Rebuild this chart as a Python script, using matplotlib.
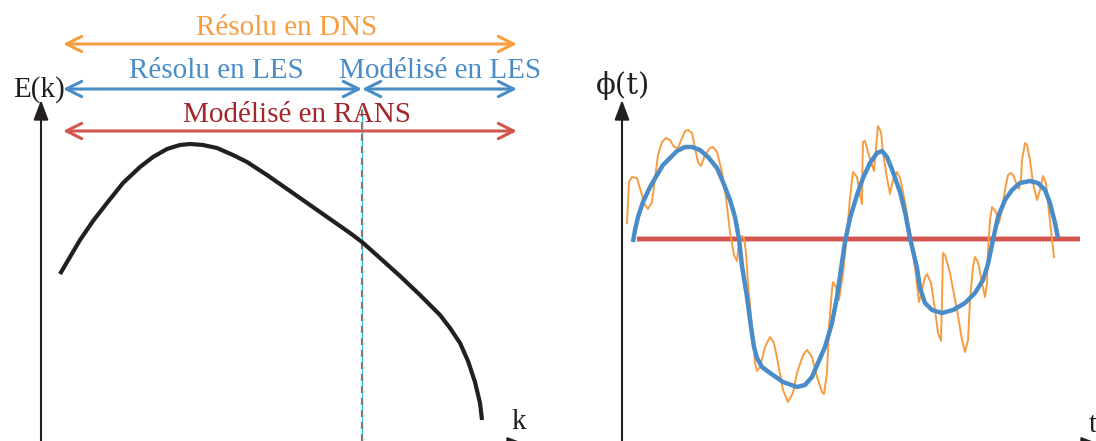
import matplotlib
matplotlib.use("Agg")
import matplotlib.pyplot as plt
from matplotlib.patches import FancyArrowPatch

# ---------------- data ----------------
# Left panel: energy spectrum E(k)
k_vals = [1.9, 2.9, 3.9, 5.2, 6.6, 8.2, 9.9, 11.2, 12.6, 13.9, 14.9, 16.2, 17.6, 19.2, 20.6,
          22.6, 24.9, 26.9, 28.9, 30.9, 32.1, 33.9, 35.9, 37.9, 39.9, 40.9, 41.9, 42.7,
          43.4, 43.9, 44.1]
E_vals = [16.7, 18.4, 20.1, 22.0, 23.8, 25.8, 27.4, 28.4, 29.2, 29.6, 29.7, 29.6, 29.3, 28.6, 27.9,
          26.6, 25.0, 23.6, 22.2, 20.8, 19.9, 18.3, 16.5, 14.6, 12.6, 11.3, 9.8, 8.0,
          5.9, 3.8, 2.1]
k_cut = 32.1
labels_left = ["Résolu en DNS", "Résolu en LES", "Modélisé en LES", "Modélisé en RANS"]

# Right panel: instantaneous signal phi(t)
t_raw = [0.5, 0.7, 1.0, 1.5, 1.9, 2.3, 2.6, 3.0, 3.3, 3.6, 4.0, 4.4, 4.8, 5.2, 5.6, 6.0,
         6.3, 6.6, 7.0, 7.3, 7.6, 7.9, 8.3, 8.8, 9.1, 9.5, 10.0, 10.4, 10.8, 11.2, 11.5, 11.7,
         12.0, 12.2, 12.4, 12.6, 13.0, 13.3, 13.5, 13.8, 14.3, 14.8, 15.2, 15.6, 16.1, 16.6,
         17.1, 17.5, 18.1, 18.5, 19.0, 19.5, 20.0, 20.2, 20.5, 20.7, 21.0, 21.1, 21.4, 21.7,
         22.1, 22.5, 22.8, 23.1, 23.5, 23.8, 24.0, 24.05, 24.1, 24.3, 24.6, 25.0, 25.2, 25.4,
         25.6, 25.9, 26.1, 26.5, 26.8, 27.1, 27.5, 27.8, 28.3, 28.8, 29.3, 29.7, 30.0, 30.3,
         30.5, 30.9, 31.3, 31.6, 31.9, 32.0, 32.1, 32.3, 32.8, 33.5, 34.0, 34.3, 34.6, 34.8,
         35.1, 35.3, 35.6, 36.0, 36.3, 36.5, 36.6, 36.8, 37.0, 37.4, 37.7, 38.0, 38.3, 38.6,
         38.9, 39.1, 39.5, 39.7, 39.9, 40.0, 40.3, 40.5, 40.8, 41.1, 41.5, 41.8, 42.1, 42.4,
         42.6, 42.9, 43.1, 43.2]
phi_raw = [1.6, 5.7, 6.2, 6.1, 4.7, 3.4, 3.0, 3.7, 6.1, 8.4, 9.7, 10.1, 9.9, 9.2, 9.1, 10.1,
           10.8, 10.9, 10.6, 9.1, 7.7, 7.3, 8.4, 9.1, 9.2, 8.7, 6.7, 4.1, 0.7, -1.6, -2.2, -0.4,
           0.3, 0.1, -1.4, -4.4, -8.8, -12.4, -13.2, -12.8, -10.8, -9.8, -10.4, -12.4, -15.1, -16.3,
           -15.4, -13.4, -11.6, -11.1, -11.8, -13.8, -15.3, -15.5, -13.4, -8.8, -5.1, -4.3, -4.8, -6.1,
           -3.5, 0.5, 4.1, 6.7, 6.2, 4.4, 3.5, 7.4, 9.7, 9.8, 8.7, 7.4, 6.8, 9.1,
           11.3, 10.7, 8.7, 6.1, 4.5, 5.9, 6.7, 6.1, 3.7, 0.7, -2.8, -6.3, -5.1, -3.8,
           -3.5, -4.4, -7.1, -9.4, -10.2, -6.1, -1.4, -1.6, -3.4, -7.1, -10.1, -11.3, -10.1, -6.1,
           -2.8, -1.8, -2.3, -4.4, -5.8, -4.4, -1.1, 1.9, 3.2, 2.7, 1.6, 2.9, 4.9, 6.4,
           6.6, 6.4, 5.4, 5.0, 5.9, 7.9, 9.6, 9.4, 7.9, 5.6, 3.9, 4.9, 6.3, 5.6,
           3.6, 0.9, -0.8, -1.8]

# Right panel: filtered (LES) signal
t_les = [1.1, 1.3, 1.6, 2.1, 2.8, 3.5, 4.1, 4.8, 5.5, 6.3, 7.0, 7.8, 8.6, 9.5, 10.1, 10.8,
         11.3, 11.7, 12.0, 12.5, 12.9, 13.2, 13.5, 14.0, 14.8, 16.1, 17.5, 18.3, 19.0, 19.6,
         20.3, 21.0, 21.5, 21.9, 22.3, 22.8, 23.5, 24.1, 24.8, 25.5, 26.0, 26.5, 27.1, 27.8,
         28.3, 28.8, 29.5, 29.8, 30.3, 31.0, 32.0, 33.1, 34.3, 35.3, 36.1, 36.6, 37.1, 37.6,
         38.3, 39.0, 39.8, 40.8, 41.6, 42.3, 42.8, 43.3, 43.6]
phi_les = [-0.3, 0.9, 2.2, 3.7, 5.2, 6.4, 7.4, 8.1, 8.8, 9.2, 9.2, 8.9, 8.2, 7.1, 5.7, 3.9,
           2.2, 0.0, -2.7, -5.8, -8.8, -10.8, -11.9, -12.8, -13.4, -14.3, -14.8, -14.6, -13.8, -12.4,
           -10.8, -8.4, -5.8, -3.0, -0.3, 2.1, 4.4, 6.1, 7.6, 8.6, 8.8, 8.2, 6.7, 4.7,
           2.7, 0.1, -2.9, -4.9, -6.4, -7.1, -7.4, -7.1, -6.4, -5.4, -4.1, -2.5, -0.1, 2.2,
           3.9, 4.9, 5.6, 5.8, 5.6, 4.9, 3.6, 1.6, 0.1]

# Right panel: mean (RANS) value
t_mean = [1.5, 45.8]
phi_mean = [0.0, 0.0]

assert len(t_raw) == len(phi_raw) and len(t_les) == len(phi_les) and len(k_vals) == len(E_vals)

# ---------------- styling ----------------
ORANGE = "#F79C3F"
BLUE = "#4A8CC8"
RED = "#D2564E"
DARKRED = "#A2262B"
INK = "#231F20"
FONT = "Liberation Serif"

W, H = 1096, 441
fig = plt.figure(figsize=(W / 100, H / 100), dpi=100)

# Left axes
axL = fig.add_axes([41 / W, 0, 484 / W, 1])
axL.set_xlim(0, 48.4)
axL.set_ylim(0, 44.1)
axL.axis("off")

axL.plot(k_vals, E_vals, color=INK, lw=3.0, solid_capstyle="butt", solid_joinstyle="round", zorder=3)

# cutoff line
axL.plot([k_cut, k_cut], [0, 33.2], color="#19C3F0", lw=0.9, zorder=2, clip_on=False)
axL.plot([k_cut, k_cut], [0, 33.2], color="#7F7F7F", lw=1.6, ls=(0, (3.2, 2.2)), zorder=2, clip_on=False)

def harrow(ax, x0, x1, y, color):
    a = FancyArrowPatch((x0, y), (x1, y), arrowstyle="<->,head_length=1.1,head_width=0.55",
                        mutation_scale=10, color=color, lw=2.2, shrinkA=0, shrinkB=0,
                        clip_on=False, zorder=4)
    ax.add_patch(a)

harrow(axL, 2.2, 47.6, 39.7, ORANGE)
harrow(axL, 2.2, k_cut, 35.2, BLUE)
harrow(axL, k_cut, 47.6, 35.2, BLUE)
harrow(axL, 2.2, 47.6, 31.0, RED)

fs = 21
axL.text(24.6, 40.6, labels_left[0], color=ORANGE, fontsize=fs, family=FONT, ha="center", va="baseline", clip_on=False)
axL.text(17.5, 36.3, labels_left[1], color=BLUE, fontsize=fs, family=FONT, ha="center", va="baseline", clip_on=False)
axL.text(39.9, 36.3, labels_left[2], color=BLUE, fontsize=fs, family=FONT, ha="center", va="baseline", clip_on=False)
axL.text(25.6, 31.9, labels_left[3], color=DARKRED, fontsize=fs, family=FONT, ha="center", va="baseline", clip_on=False)
axL.text(-0.2, 34.4, "E(k)", color=INK, fontsize=fs, family=FONT, ha="center", va="baseline", clip_on=False)
axL.text(47.8, 1.2, "k", color=INK, fontsize=fs, family=FONT, ha="center", va="baseline", clip_on=False)

# axis arrows (left)
axL.add_patch(FancyArrowPatch((0, -1), (0, 34.1), arrowstyle="-|>,head_length=1.2,head_width=0.45",
                              mutation_scale=10, color=INK, lw=1.5, shrinkA=0, shrinkB=0, clip_on=False))
axL.add_patch(FancyArrowPatch((-1, -0.35), (48.6, -0.35), arrowstyle="-|>,head_length=1.2,head_width=0.45",
                              mutation_scale=10, color=INK, lw=1.5, shrinkA=0, shrinkB=0, clip_on=False))

# Right axes
axR = fig.add_axes([622 / W, 0, 474 / W, 1])
axR.set_xlim(0, 47.4)
axR.set_ylim(-20.2, 23.9)
axR.axis("off")

axR.plot(t_mean, phi_mean, color="#EBA9A6", lw=4.0, solid_capstyle="butt", zorder=1)
axR.plot(t_mean, phi_mean, color=RED, lw=3.0, solid_capstyle="butt", zorder=1)
axR.plot(t_raw, phi_raw, color=ORANGE, lw=1.4, solid_joinstyle="round", zorder=2)
axR.plot(t_les, phi_les, color=BLUE, lw=3.2, solid_joinstyle="round", solid_capstyle="butt", zorder=3)

axR.text(0.1, 14.5, "ϕ(t)", color=INK, fontsize=fs, family=["DejaVu Serif"], ha="center", va="baseline", clip_on=False)
axR.text(47.1, -19.3, "t", color=INK, fontsize=fs, family=FONT, ha="center", va="baseline", clip_on=False)

axR.add_patch(FancyArrowPatch((0, -21), (0, 13.9), arrowstyle="-|>,head_length=1.2,head_width=0.45",
                              mutation_scale=10, color=INK, lw=1.5, shrinkA=0, shrinkB=0, clip_on=False))
axR.add_patch(FancyArrowPatch((-1, -20.55), (47.9, -20.55), arrowstyle="-|>,head_length=1.2,head_width=0.45",
                              mutation_scale=10, color=INK, lw=1.5, shrinkA=0, shrinkB=0, clip_on=False))

fig.savefig("out.png", dpi=100)
